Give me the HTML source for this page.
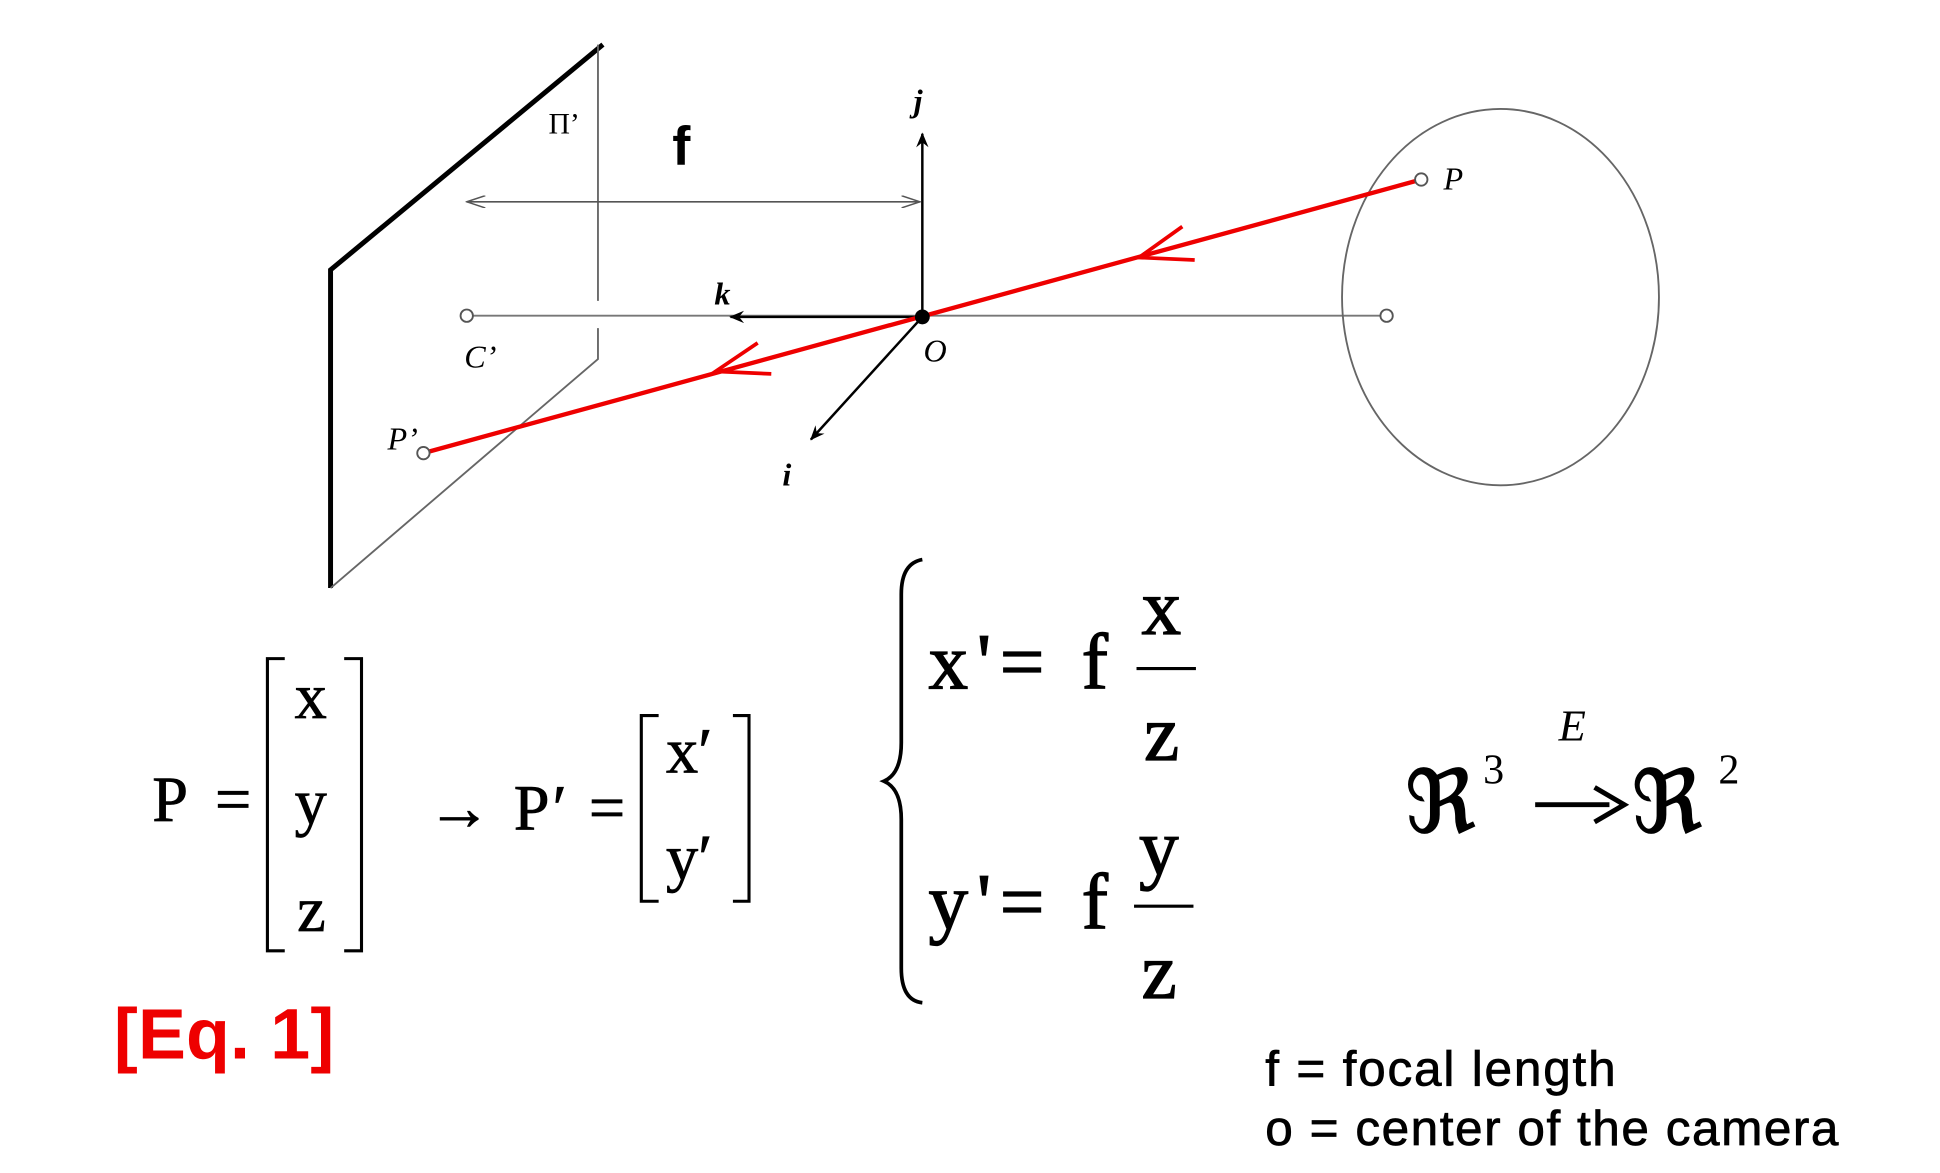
<!DOCTYPE html>
<html><head><meta charset="utf-8"><style>
html,body{margin:0;padding:0;background:#fff;}
svg{display:block;}
.it{font-family:"Liberation Serif",serif;font-style:italic;}
.sr{font-family:"Liberation Serif",serif;}
</style></head><body>
<svg width="1940" height="1173" viewBox="0 0 1567 947.5" preserveAspectRatio="none" xmlns="http://www.w3.org/2000/svg">
<defs>
<marker id="ah" markerWidth="12" markerHeight="10" refX="11" refY="5" orient="auto" markerUnits="userSpaceOnUse"><path d="M0,0 L12,5 L0,10 L4,5 Z" fill="#000"/></marker>
<marker id="ahg" markerWidth="16" markerHeight="10" refX="15" refY="5" orient="auto-start-reverse" markerUnits="userSpaceOnUse"><path d="M0,0 L15,5 L0,10" fill="none" stroke="#555" stroke-width="1.2"/></marker>
</defs>
<g>
<polyline points="487,36 267,218 267,475" fill="none" stroke="#000" stroke-width="4"/>
<line x1="483" y1="36" x2="483" y2="243" stroke="#666" stroke-width="1.5"/>
<polyline points="483,265 483,290 267,475" fill="none" stroke="#666" stroke-width="1.5"/>
</g>
<text x="443" y="108" class="sr" font-size="24">Π’</text>
<text x="543" y="133" font-family="Liberation Sans,sans-serif" font-weight="bold" font-size="44">f</text>
<line x1="377" y1="163" x2="743" y2="163" stroke="#555" stroke-width="1.3" marker-start="url(#ahg)" marker-end="url(#ahg)"/>
<line x1="380" y1="255" x2="1117" y2="255" stroke="#777" stroke-width="1.5"/>
<circle cx="377" cy="255" r="5" fill="#fff" stroke="#555" stroke-width="1.5"/>
<circle cx="1120" cy="255" r="5" fill="#fff" stroke="#555" stroke-width="1.5"/>
<text x="375" y="297" class="it" font-size="26">C’</text>
<line x1="745" y1="255" x2="745" y2="108" stroke="#000" stroke-width="2" marker-end="url(#ah)"/>
<text x="738" y="90" class="it" font-weight="bold" font-size="26">j</text>
<line x1="745" y1="256" x2="590" y2="256" stroke="#000" stroke-width="2" marker-end="url(#ah)"/>
<text x="577" y="246" class="it" font-weight="bold" font-size="26">k</text>
<line x1="745" y1="256" x2="655" y2="355" stroke="#000" stroke-width="2" marker-end="url(#ah)"/>
<text x="632" y="392" class="it" font-weight="bold" font-size="26">i</text>
<ellipse cx="1212" cy="240" rx="128" ry="152" fill="none" stroke="#666" stroke-width="1.5"/>
<line x1="1148" y1="145" x2="342" y2="366" stroke="#e00" stroke-width="3.5"/>
<polyline points="955,183 920,208 965,210" fill="none" stroke="#e00" stroke-width="3"/>
<polyline points="612,277 578,300 623,302" fill="none" stroke="#e00" stroke-width="3"/>
<circle cx="1148" cy="145" r="5" fill="#fff" stroke="#555" stroke-width="1.5"/>
<circle cx="342" cy="366" r="5" fill="#fff" stroke="#555" stroke-width="1.5"/>
<circle cx="745" cy="256" r="6" fill="#000"/>
<text x="1166" y="153" class="it" font-size="26">P</text>
<text x="313" y="363" class="it" font-size="26">P’</text>
<text x="746" y="292" class="it" font-size="26">O</text>

<g class="sr" font-size="52" stroke="#000" stroke-width="0.6">
<text x="123" y="663" textLength="80">P =</text>
<path d="M230,532 H216 V768 H230 M278,532 H292 V768 H278" fill="none" stroke="#000" stroke-width="2.5"/>
<text x="238" y="580">x</text>
<text x="238" y="665">y</text>
<text x="240" y="752">z</text>
<text x="345" y="670" textLength="160">→ P′ =</text>
<path d="M532,578 H518 V728 H532 M592,578 H605 V728 H592" fill="none" stroke="#000" stroke-width="2.5"/>
<text x="538" y="624">x′</text>
<text x="538" y="710">y′</text>
</g>
<path d="M745,452 Q728,455 728,480 L728,600 Q728,625 714,631 Q728,637 728,662 L728,782 Q728,808 745,810" fill="none" stroke="#000" stroke-width="3"/>
<g class="sr" font-size="64" stroke="#000" stroke-width="1">
<text x="750" y="556" textLength="145">x'= f</text>
<text x="922" y="512">x</text>
<line x1="918" y1="540" x2="966" y2="540" stroke="#000" stroke-width="2.5"/>
<text x="924" y="614">z</text>
<text x="750" y="750" textLength="145">y'= f</text>
<text x="920" y="706">y</text>
<line x1="916" y1="732" x2="964" y2="732" stroke="#000" stroke-width="2.5"/>
<text x="922" y="806">z</text>
</g>
<g class="sr">
<text x="1135" y="672" font-size="70" stroke="#000" stroke-width="1">ℜ</text>
<text x="1198" y="633" font-size="34">3</text>
<line x1="1240" y1="650" x2="1300" y2="650" stroke="#000" stroke-width="4"/>
<path d="M1288,636 L1312,650 L1288,664" fill="none" stroke="#000" stroke-width="4"/>
<text x="1318" y="672" font-size="70" stroke="#000" stroke-width="1">ℜ</text>
<text x="1388" y="633" font-size="34">2</text>
<text x="1259" y="598" class="it" font-size="36">E</text>
</g>
<text x="92" y="855" font-family="Liberation Sans,sans-serif" font-weight="bold" font-size="58" fill="#e00" textLength="178">[Eq. 1]</text>
<text x="1022" y="877" font-family="Liberation Sans,sans-serif" font-size="40" stroke="#000" stroke-width="0.6" textLength="283">f = focal length</text>
<text x="1022" y="925" font-family="Liberation Sans,sans-serif" font-size="40" stroke="#000" stroke-width="0.6" textLength="463">o = center of the camera</text>
</svg>
</body></html>
